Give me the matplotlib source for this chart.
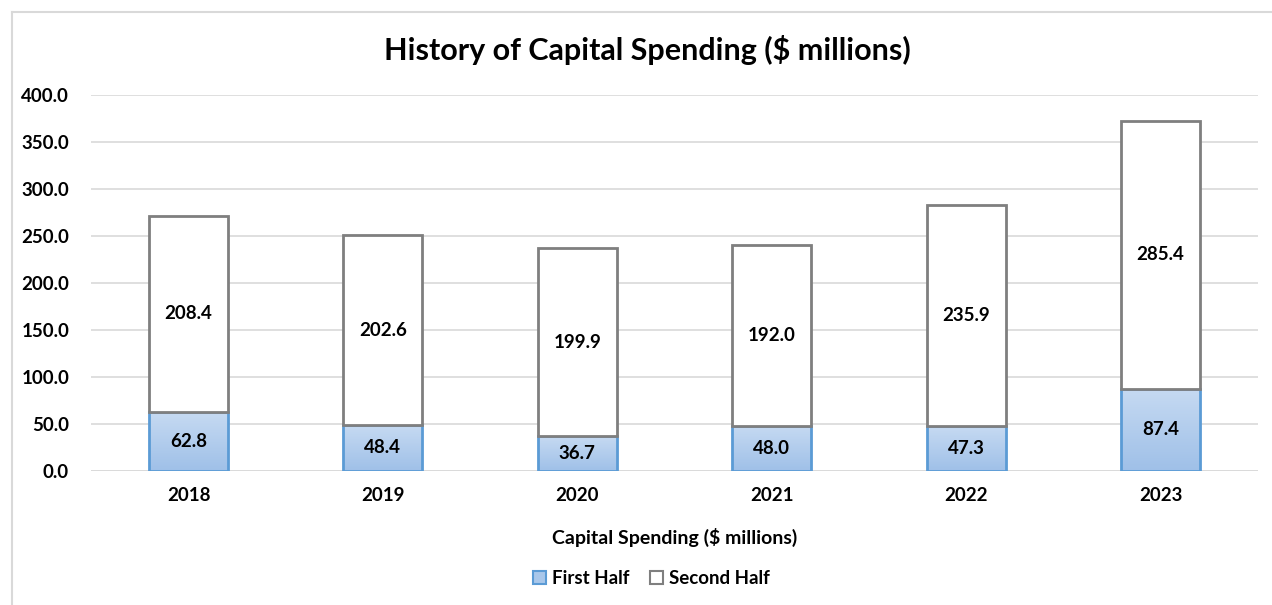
import matplotlib
matplotlib.use("Agg")
import matplotlib.pyplot as plt
import numpy as np
from matplotlib.lines import Line2D
from matplotlib.colors import LinearSegmentedColormap
from matplotlib.patches import Patch

years = ["2018", "2019", "2020", "2021", "2022", "2023"]
first_half = [62.8, 48.4, 36.7, 48.0, 47.3, 87.4]
second_half = [208.4, 202.6, 199.9, 192.0, 235.9, 285.4]
yticks = [0, 50, 100, 150, 200, 250, 300, 350, 400]

plt.rcParams['font.family'] = ['Lato', 'DejaVu Sans']

fig = plt.figure(figsize=(12.72, 6.05), dpi=100)
ax = fig.add_axes([0.0718, 0.222, 0.917, 0.621])

x = np.arange(len(years))
w = 0.406
blue_edge = "#5b9bd5"
gray_edge = "#7f7f7f"

cmap = LinearSegmentedColormap.from_list("g", ["#9fc0e8", "#c6daf2"])
grad = np.linspace(0, 1, 256).reshape(-1, 1)

b1 = ax.bar(x, first_half, w, color="none", edgecolor=blue_edge, linewidth=2, zorder=3)
for rect in b1:
    x0, y0 = rect.get_x(), rect.get_y()
    im = ax.imshow(grad, cmap=cmap, aspect="auto", origin="lower",
                   extent=[x0, x0 + rect.get_width(), y0, y0 + rect.get_height()],
                   zorder=2)
    im.set_clip_path(rect)
b2 = ax.bar(x, second_half, w, bottom=first_half, color="white",
            edgecolor=gray_edge, linewidth=2, zorder=3)

for i in range(len(years)):
    ax.text(x[i], first_half[i] / 2, f"{first_half[i]:.1f}", ha="center", va="center",
            fontsize=13.5, fontweight="bold", color="black", zorder=4)
    ax.text(x[i], first_half[i] + second_half[i] / 2, f"{second_half[i]:.1f}",
            ha="center", va="center", fontsize=13.5, fontweight="bold", color="black", zorder=4)

ax.set_xlim(-0.5, len(years) - 0.5)
ax.set_ylim(0, 400)
ax.set_yticks(yticks)
ax.set_yticklabels([f"{v:.1f}" for v in yticks], fontsize=13.5, fontweight="bold")
ax.set_xticks(x)
ax.set_xticklabels(years, fontsize=13.5, fontweight="bold")
ax.tick_params(axis="both", length=0)
ax.tick_params(axis="y", pad=16)
ax.tick_params(axis="x", pad=12)
ax.yaxis.grid(True, color="#d9d9d9", linewidth=1.2, zorder=0)
ax.set_axisbelow(True)
for s in ax.spines.values():
    s.set_visible(False)
ax.axhline(0, color="#d9d9d9", linewidth=1.2, zorder=1)

ax.set_xlabel("Capital Spending ($ millions)", fontsize=14, fontweight="bold", labelpad=17)
fig.text(0.509, 0.918, "History of Capital Spending ($ millions)", ha="center", va="center",
         fontsize=22, fontweight="bold")

handles = [Patch(facecolor="#a9c7ea", edgecolor=blue_edge, linewidth=1.5, label="First Half"),
           Patch(facecolor="white", edgecolor=gray_edge, linewidth=1.5, label="Second Half")]
fig.legend(handles=handles, loc="center", bbox_to_anchor=(0.512, 0.043), ncol=2, frameon=False,
           prop={"size": 13.5, "weight": "bold"}, handlelength=0.7, handleheight=0.7,
           handletextpad=0.3, columnspacing=1.1)

fig.add_artist(Line2D([11.5 / 1272, 1.0], [1 - 11.5 / 605, 1 - 11.5 / 605],
                      transform=fig.transFigure, color="#d9d9d9", linewidth=1.5))
fig.add_artist(Line2D([11.5 / 1272, 11.5 / 1272], [0, 1 - 11.5 / 605],
                      transform=fig.transFigure, color="#d9d9d9", linewidth=1.5))

fig.savefig("out.png", dpi=100)
